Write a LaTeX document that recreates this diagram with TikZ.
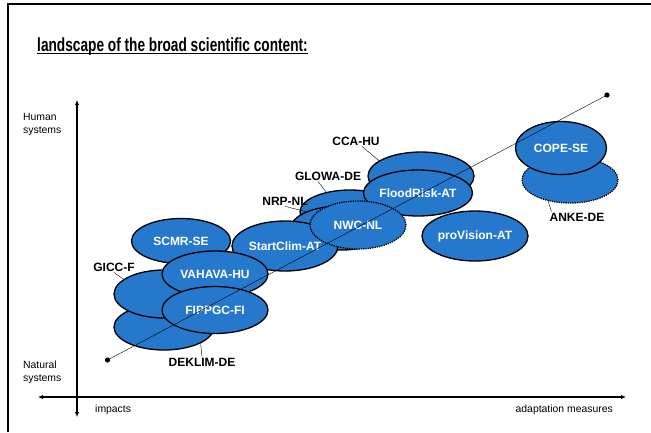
\documentclass[tikz,border=0pt]{standalone}
\usepackage{fontspec}
\setmainfont{Liberation Sans}
\usepackage{tikz}
\usetikzlibrary{calc}
\usetikzlibrary{positioning}
\usetikzlibrary{shapes.geometric}
\usetikzlibrary{arrows.meta}
\definecolor{ellblue}{RGB}{38,120,205}

\begin{document}
\begin{tikzpicture}
		[
		x=1pt,y=-1pt,
		font=\fontsize{12}{14}\bfseries,
		>={Latex[length=5pt,width=4.5pt]}
		]
		
		% Ellipses: solid and dotted border, plus the outside names
		\tikzstyle{blob}=[ellipse,draw,fill=ellblue,line width=1.3pt,text=white,inner sep=0];
		\tikzstyle{dotted blob}=[blob,densely dotted];
		\tikzstyle{tag}=[inner sep=1pt];
		\tikzstyle{axis label}=[font=\fontsize{10.4}{13}\selectfont,align=left,inner sep=0];
		
		\useasboundingbox(0,0)rectangle(651,432);
		\fill[white](0,0)rectangle(651,432);
		
		% Frame
		\draw[line width=1.5pt](8,432)--(8,4)--(651,4);
		
		% Title
		\node(title)[anchor=base west,inner sep=0]at(37,51)
			{\scalebox{0.72}[1]{\fontsize{19}{22}\bfseries landscape of the broad scientific content:}};
		\draw[line width=1.4pt]($(title.base west)+(0,2.5)$)--($(title.base east)+(0,2.5)$);
		
		% Axes
		\coordinate(ytop)at(77,100);
		\coordinate(ybot)at(77,417);
		\coordinate(xleft)at(38,397);
		\coordinate(xright)at(626,397);
		\draw[<->,line width=1.3pt](ybot)--(ytop);
		\draw[<->,line width=1.3pt](xleft)--(xright);
		\node(human)[axis label,anchor=west]at(23,124){Human\\systems};
		\node(natural)[axis label,anchor=west]at(23,372){Natural\\systems};
		\node(impacts)[axis label,anchor=west]at(95,410){impacts};
		\node(measures)[axis label,anchor=east]at(613,410){adaptation measures};
		
		% The ellipses, back to front
		\node(cca)[blob,minimum width=106,minimum height=48]at(421,176){};
		\node(glowa)[blob,minimum width=100,minimum height=44]at(350,212){};
		\node(nrp)[blob,minimum width=100,minimum height=44]at(341,228){};
		\node(flood)[blob,minimum width=108,minimum height=46]at(418,193){FloodRisk-AT};
		\node(startclim)[blob,minimum width=106,minimum height=50]at(285,246){StartClim-AT};
		\node(nwc)[dotted blob,minimum width=96,minimum height=48]at(358,225){NWC-NL};
		\node(provision)[blob,minimum width=106,minimum height=50]at(475,236){proVision-AT};
		\node(scmr)[blob,minimum width=99,minimum height=45]at(181,241){SCMR-SE};
		\node(deklim)[blob,minimum width=100,minimum height=46]at(164,327){};
		\node(gicc)[blob,minimum width=100,minimum height=48]at(164,294){};
		\node(vahava)[blob,minimum width=106,minimum height=46]at(215,274){VAHAVA-HU};
		\node(fippgc)[blob,minimum width=106,minimum height=47]at(215,310){FIPPGC-FI};
		\node(anke)[dotted blob,minimum width=96,minimum height=46]at(570,180){};
		\node(cope)[blob,minimum width=91,minimum height=53]at(561,148){COPE-SE};
		
		% Names outside the ellipses
		\node(ccal)[tag]at(356,141){CCA-HU};
		\node(glowal)[tag]at(328,176){GLOWA-DE};
		\node(nrpl)[tag]at(285,201){NRP-NL};
		\node(giccl)[tag]at(114,267){GICC-F};
		\node(dekliml)[tag]at(202,362){DEKLIM-DE};
		\node(ankel)[tag]at(577,217){ANKE-DE};
		\draw([xshift=6pt]ccal.south)--(cca.160);
		\draw([xshift=-10pt]glowal.south)--(glowa.140);
		\draw(nrpl.south)--(nrp.155);
		\draw(giccl.south)--(gicc.160);
		\draw(deklim.-24)--(dekliml.north);
		\draw(anke.-136)--([xshift=3pt]ankel.north west);
		
		% Diagonal
		\coordinate(low)at(107.5,360);
		\coordinate(high)at(607,95);
		\draw(low)--(high);
		\foreach \p in {low,high} \fill(\p)circle(2.6);
		\end{tikzpicture}
\end{document}
